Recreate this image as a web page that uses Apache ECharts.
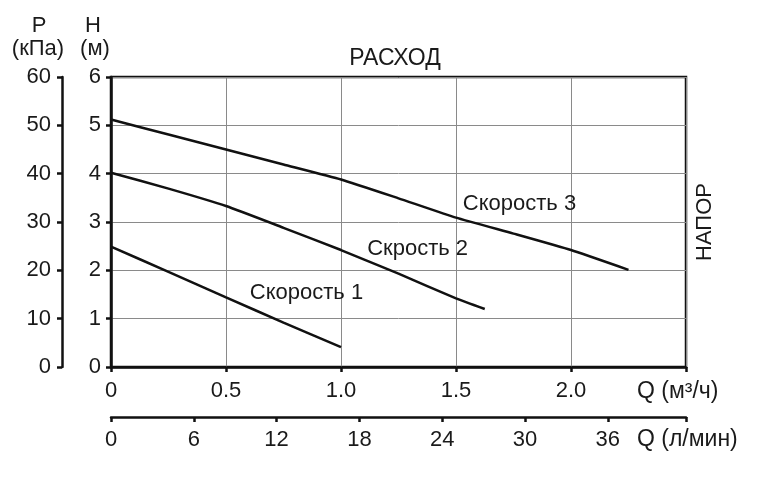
<!DOCTYPE html>
<html>
<head>
<meta charset="utf-8">
<script src="https://cdn.jsdelivr.net/npm/echarts@6/dist/echarts.min.js"></script>
<style>
html,body{margin:0;padding:0;background:#fff;}
#c{width:762px;height:479px;}
</style>
</head>
<body>
<div id="c"></div>
<script>
// Flow Q (m3/h) sample points and head H (m) per speed
const speed1Q = [0, 0.25, 0.5, 0.75, 1.0];
const speed1H = [2.49, 1.97, 1.44, 0.92, 0.41];
const speed2Q = [0, 0.25, 0.5, 0.75, 1.0, 1.25, 1.5, 1.625];
const speed2H = [4.02, 3.69, 3.33, 2.88, 2.42, 1.93, 1.42, 1.20];
const speed3Q = [0, 0.25, 0.5, 0.75, 1.0, 1.25, 1.5, 1.75, 2.0, 2.25];
const speed3H = [5.12, 4.81, 4.5, 4.19, 3.88, 3.49, 3.09, 2.76, 2.42, 2.01];
const seriesNames = ['Скорость 1', 'Скрость 2', 'Скорость 3'];
// label anchor positions in data coordinates [Q, H]
const labelPos = [[0.85, 1.53], [1.333, 2.44], [1.776, 3.38]];
const qTicksM3h = [0, 0.5, 1.0, 1.5, 2.0];
const qTicksLmin = [0, 6, 12, 18, 24, 30, 36];

const FONT = 'Liberation Sans, Arial, sans-serif';
const TXT = '#1a1a1a';
const FS = 22;

function pairs(q, h) { return q.map((v, i) => [v, h[i]]); }
const allQ = [speed1Q, speed2Q, speed3Q];
const allH = [speed1H, speed2H, speed3H];

const chart = echarts.init(document.getElementById('c'), null, {renderer: 'canvas'});
const axisLine = {show: true, onZero: false, lineStyle: {color: '#111', width: 2.5}};
const axisTick = {show: true, length: 5, lineStyle: {color: '#111', width: 2.5}};
const labelStyle = {color: TXT, fontSize: FS, fontFamily: FONT};

const option = {
  animation: false,
  backgroundColor: '#fff',
  grid: {left: 111, right: 76, top: 77, bottom: 112, show: true, borderColor: '#111', borderWidth: 2.5},
  xAxis: [
    {
      type: 'value', min: 0, max: 2.5, interval: 0.5, position: 'bottom',
      axisLine: axisLine, axisTick: axisTick,
      axisLabel: Object.assign({margin: 13, formatter: v => qTicksM3h.includes(v) ? (v === 0 ? '0' : v.toFixed(1)) : ''}, labelStyle),
      splitLine: {show: true, lineStyle: {color: '#8a8a8a', width: 1}}
    },
    {
      type: 'value', min: 0, max: 2.5 * 1000 / 60, interval: 6, position: 'bottom', offset: 50,
      axisLine: axisLine, axisTick: axisTick,
      axisLabel: Object.assign({margin: 12, formatter: v => qTicksLmin.includes(v) ? String(v) : ''}, labelStyle),
      splitLine: {show: false}
    }
  ],
  yAxis: [
    {
      type: 'value', min: 0, max: 6, interval: 1, position: 'left',
      axisLine: axisLine, axisTick: axisTick,
      axisLabel: Object.assign({margin: 10}, labelStyle),
      splitLine: {show: true, lineStyle: {color: '#8a8a8a', width: 1}}
    },
    {
      type: 'value', min: 0, max: 60, interval: 10, position: 'left', offset: 49,
      axisLine: axisLine, axisTick: axisTick,
      axisLabel: Object.assign({margin: 11}, labelStyle),
      splitLine: {show: false}
    }
  ],
  series: allQ.map((q, i) => ({
    type: 'line',
    name: seriesNames[i],
    xAxisIndex: 0, yAxisIndex: 0,
    data: pairs(q, allH[i]),
    smooth: 0.15,
    symbol: 'none',
    lineStyle: {color: '#111', width: 2.5},
    markPoint: {
      symbol: 'circle', symbolSize: 1,
      itemStyle: {color: 'rgba(0,0,0,0)'},
      label: {show: true, position: 'inside', formatter: seriesNames[i], color: TXT, fontSize: FS, fontFamily: FONT},
      data: [{coord: labelPos[i]}]
    }
  })),
  graphic: [
    {type: 'text', left: 637, top: 380, style: {text: 'Q (м³/ч)', fill: TXT, font: '23px ' + FONT}},
    {type: 'text', left: 637, top: 428, style: {text: 'Q (л/мин)', fill: TXT, font: '23px ' + FONT}},
    {type: 'text', x: 395, y: 59, style: {text: 'РАСХОД', fill: TXT, font: '23px ' + FONT, align: 'center', verticalAlign: 'middle'}},
    {type: 'text', x: 705, y: 222, rotation: Math.PI / 2, style: {text: 'НАПОР', fill: TXT, font: FS + 'px ' + FONT, align: 'center', verticalAlign: 'middle'}},
    {type: 'text', x: 39, y: 26, style: {text: 'P', fill: TXT, font: FS + 'px ' + FONT, align: 'center', verticalAlign: 'middle'}},
    {type: 'text', x: 38, y: 49, style: {text: '(кПа)', fill: TXT, font: FS + 'px ' + FONT, align: 'center', verticalAlign: 'middle'}},
    {type: 'text', x: 93, y: 26, style: {text: 'H', fill: TXT, font: FS + 'px ' + FONT, align: 'center', verticalAlign: 'middle'}},
    {type: 'text', x: 95, y: 49, style: {text: '(м)', fill: TXT, font: FS + 'px ' + FONT, align: 'center', verticalAlign: 'middle'}}
  ]
};
chart.setOption(option);
</script>
</body>
</html>
